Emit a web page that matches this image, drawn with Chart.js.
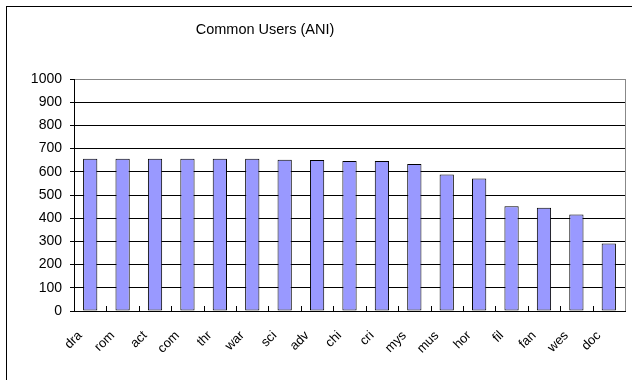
<!DOCTYPE html>
<html>
<head>
<meta charset="utf-8">
<script src="https://cdn.jsdelivr.net/npm/chart.js@4"></script>
<style>
  body { margin: 0; background: #fff; }
  #wrap { width: 632px; height: 380px; position: relative; }
</style>
</head>
<body>
<div id="wrap"><canvas id="chart"></canvas></div>
<script>
// chart data
const chartTitle = 'Common Users (ANI)';
const genres = ['dra', 'rom', 'act', 'com', 'thr', 'war', 'sci', 'adv', 'chi', 'cri', 'mys', 'mus', 'hor', 'fil', 'fan', 'wes', 'doc'];
const commonUsers = [656, 656, 656, 656, 656, 656, 652, 651, 647, 647, 634, 588, 571, 451, 445, 416, 291];
const yTicks = [0, 100, 200, 300, 400, 500, 600, 700, 800, 900, 1000];

const FONT = '"Liberation Sans", Arial, sans-serif';

// frame, title, slanted category labels, inward x ticks and the grey right edge
const extras = {
  id: 'extras',
  beforeDraw(chart) {
    const ctx = chart.ctx;
    ctx.save();
    ctx.strokeStyle = '#000';
    ctx.lineWidth = 1;
    ctx.strokeRect(6.5, 6.5, 700, 500);
    ctx.fillStyle = '#000';
    ctx.font = '14.5px ' + FONT;
    ctx.textAlign = 'center';
    ctx.textBaseline = 'middle';
    ctx.fillText(chartTitle, 265, 30);
    ctx.restore();
  },
  afterDatasetsDraw(chart) {
    const ctx = chart.ctx;
    const x = chart.scales.x;
    const area = chart.chartArea;
    ctx.save();
    ctx.strokeStyle = '#000';
    ctx.lineWidth = 1;
    for (let i = 1; i < genres.length; i++) {
      const px = Math.round((x.getPixelForValue(i - 1) + x.getPixelForValue(i)) / 2) + 0.5;
      ctx.beginPath();
      ctx.moveTo(px, area.bottom);
      ctx.lineTo(px, area.bottom - 5);
      ctx.stroke();
    }
    ctx.strokeStyle = '#888';
    ctx.beginPath();
    ctx.moveTo(Math.round(area.right) + 0.5, area.top);
    ctx.lineTo(Math.round(area.right) + 0.5, area.bottom);
    ctx.stroke();

    // category labels at 45 degrees, hanging left of each bar
    ctx.fillStyle = '#000';
    ctx.font = '13px ' + FONT;
    ctx.textAlign = 'right';
    ctx.textBaseline = 'middle';
    genres.forEach((g, i) => {
      const px = x.getPixelForValue(i);
      ctx.save();
      ctx.translate(px - 10, area.bottom + 22.5);
      ctx.rotate(-Math.PI / 4);
      ctx.fillText(g, 0, 0);
      ctx.restore();
    });
    ctx.restore();
  }
};

const ctx = document.getElementById('chart').getContext('2d');
const myChart = new Chart(ctx, {
  type: 'bar',
  data: {
    labels: genres,
    datasets: [{
      label: chartTitle,
      data: commonUsers,
      backgroundColor: '#9999FF',
      borderColor: '#000',
      borderWidth: 1,
      borderSkipped: false,
      barPercentage: 0.44,
      categoryPercentage: 1
    }]
  },
  options: {
    responsive: true,
    maintainAspectRatio: false,
    animation: false,
    layout: { padding: { top: 79, right: 7, left: 0, bottom: 0 } },
    plugins: {
      legend: { display: false },
      title: { display: false },
      tooltip: { enabled: false }
    },
    scales: {
      x: {
        grid: { display: false },
        border: { color: '#000', width: 1 },
        ticks: { display: false },
        afterFit(scale) { scale.height = 69; }
      },
      y: {
        min: 0,
        max: 1000,
        afterBuildTicks(scale) { scale.ticks = yTicks.map(v => ({ value: v })); },
        grid: {
          color: ctx => (ctx.tick && ctx.tick.value === 1000 ? '#888' : '#000'),
          tickLength: 4,
          tickColor: '#000'
        },
        border: { color: '#000', width: 1 },
        ticks: {
          color: '#000',
          font: { family: FONT, size: 14 },
          padding: 8,
          callback: v => String(v)
        },
        afterFit(scale) { scale.width = 74; }
      }
    }
  },
  plugins: [extras]
});
</script>
</body>
</html>
